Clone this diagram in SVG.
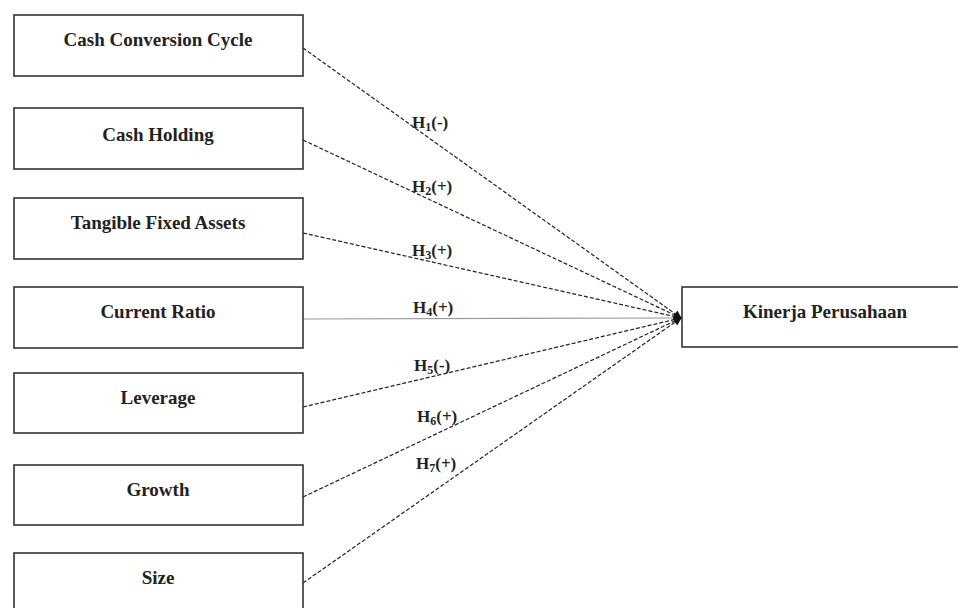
<svg xmlns="http://www.w3.org/2000/svg" width="958" height="608" viewBox="0 0 958 608">
<style>
.box{fill:#fff;stroke:#333;stroke-width:1.6}
.t{font-family:"Liberation Serif","Times New Roman",serif;font-weight:bold;font-size:19px;fill:#222;text-anchor:middle}
.h{font-family:"Liberation Serif","Times New Roman",serif;font-weight:bold;font-size:17px;fill:#222}
.c{stroke:#222;stroke-width:1.2;stroke-dasharray:4,2;fill:none}
</style>
<defs>
<marker id="ah" viewBox="0 0 10 10" refX="9" refY="5" markerWidth="8" markerHeight="8" orient="auto" markerUnits="userSpaceOnUse">
<path d="M0,0 L10,5 L0,10 z" fill="#111"/>
</marker>
</defs>
<rect width="958" height="608" fill="#fff"/>
<g id="connectors">
<line class="c" x1="303" y1="48" x2="681" y2="318" marker-end="url(#ah)"/>
<line class="c" x1="303" y1="140" x2="681" y2="318" marker-end="url(#ah)"/>
<line class="c" x1="303" y1="233" x2="681" y2="318" marker-end="url(#ah)"/>
<line x1="303" y1="319" x2="681" y2="318" stroke="#999" stroke-width="1.2" marker-end="url(#ah)"/>
<line class="c" x1="303" y1="407" x2="681" y2="318" marker-end="url(#ah)"/>
<line class="c" x1="303" y1="497" x2="681" y2="318" marker-end="url(#ah)"/>
<line class="c" x1="303" y1="583" x2="681" y2="318" marker-end="url(#ah)"/>
<text class="h" x="412" y="128">H<tspan font-size="12" dy="3">1</tspan><tspan dy="-3">(-)</tspan></text>
<text class="h" x="412" y="192">H<tspan font-size="12" dy="3">2</tspan><tspan dy="-3">(+)</tspan></text>
<text class="h" x="412" y="256">H<tspan font-size="12" dy="3">3</tspan><tspan dy="-3">(+)</tspan></text>
<text class="h" x="413" y="313">H<tspan font-size="12" dy="3">4</tspan><tspan dy="-3">(+)</tspan></text>
<text class="h" x="414" y="371">H<tspan font-size="12" dy="3">5</tspan><tspan dy="-3">(-)</tspan></text>
<text class="h" x="417" y="422">H<tspan font-size="12" dy="3">6</tspan><tspan dy="-3">(+)</tspan></text>
<text class="h" x="416" y="469">H<tspan font-size="12" dy="3">7</tspan><tspan dy="-3">(+)</tspan></text>
</g>
<g id="ccc"><rect class="box" x="14" y="15" width="289" height="61"/><text class="t" x="158" y="46">Cash Conversion Cycle</text></g>
<g id="ch"><rect class="box" x="14" y="108" width="289" height="61"/><text class="t" x="158" y="141">Cash Holding</text></g>
<g id="tfa"><rect class="box" x="14" y="198" width="289" height="61"/><text class="t" x="158" y="229">Tangible Fixed Assets</text></g>
<g id="cr"><rect class="box" x="14" y="287" width="289" height="61"/><text class="t" x="158" y="318">Current Ratio</text></g>
<g id="lev"><rect class="box" x="14" y="373" width="289" height="60"/><text class="t" x="158" y="404">Leverage</text></g>
<g id="gro"><rect class="box" x="14" y="465" width="289" height="60"/><text class="t" x="158" y="496">Growth</text></g>
<g id="size"><rect class="box" x="14" y="553" width="289" height="60"/><text class="t" x="158" y="584">Size</text></g>
<g id="kp"><rect class="box" x="682" y="287" width="280" height="60"/><text class="t" x="825" y="318">Kinerja Perusahaan</text></g>
</svg>
